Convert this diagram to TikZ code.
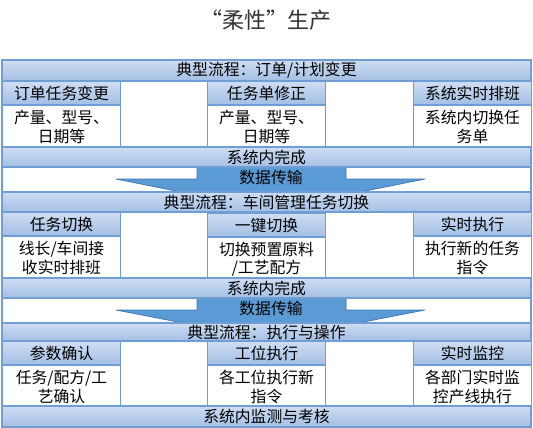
\documentclass[tikz,border=0pt]{standalone}
\usepackage{fontspec}
\setmainfont{Noto Sans CJK SC}
\definecolor{barlight}{RGB}{206,221,242}
\definecolor{bardark}{RGB}{163,191,229}
\definecolor{barline}{RGB}{112,158,212}
\definecolor{arrowblue}{RGB}{91,155,213}
\definecolor{arrowedge}{RGB}{62,118,178}
\definecolor{titlegray}{RGB}{50,50,50}
\usetikzlibrary{positioning}

\begin{document}
\begin{tikzpicture}[
  x=0.02cm, y=-0.02cm,
  bandbar/.style={
    rectangle, draw=barline, line width=0.6pt,
    top color=barlight, bottom color=bardark,
    minimum width=10.58cm, minimum height=0.4cm,
    inner sep=0pt, font=\fontsize{9}{11}\selectfont
  },
  colhead/.style={
    rectangle, draw=barline, line width=0.6pt,
    top color=barlight, bottom color=bardark,
    minimum width=2.36cm, minimum height=0.46cm,
    inner sep=0pt, font=\fontsize{9}{11}\selectfont
  },
  colbody/.style={
    rectangle, draw=barline, line width=0.6pt, fill=white,
    minimum width=2.36cm, minimum height=0.86cm,
    inner sep=0pt, align=center,
    font=\fontsize{9}{10.5}\selectfont
  },
  xferlabel/.style={inner sep=0pt, font=\fontsize{9}{11}\selectfont},
  flowarrow/.style={fill=arrowblue, draw=arrowedge, line width=0.4pt}
]
\useasboundingbox (0,0) rectangle (533,427);

\node[font=\fontsize{12.5}{14}\selectfont, text=titlegray] (title) at (266,20) {“柔性”生产};

% outer frame
\draw[barline, line width=0.6pt] (2,60) rectangle (531,427);

% transfer arrows
\draw[flowarrow] (197,167) -- (346,167) -- (346,179) -- (425,179) -- (271,210)
  -- (116,179) -- (197,179) -- cycle;
\node[xferlabel] (xfer1) at (271,177) {数据传输};
\draw[flowarrow] (197,298) -- (346,298) -- (346,310) -- (425,310) -- (271,340)
  -- (116,310) -- (197,310) -- cycle;
\node[xferlabel] (xfer2) at (271,308) {数据传输};

% stage 1
\node[bandbar, minimum height=0.42cm] (flow1) at (266.5,70.5) {典型流程：订单/计划变更};
\node[colhead, anchor=north west] (h11) at (2,81)   {订单任务变更};
\node[colhead, anchor=north west] (h12) at (207,81) {任务单修正};
\node[colhead, anchor=north west] (h13) at (413,81) {系统实时排班};
\node[colbody, below=0pt of h11] (b11) {产量、型号、\\日期等};
\node[colbody, below=0pt of h12] (b12) {产量、型号、\\日期等};
\node[colbody, below=0pt of h13] (b13) {系统内切换任\\务单};
\node[bandbar] (done1) at (266.5,157) {系统内完成};

% stage 2
\node[bandbar] (flow2) at (266.5,202) {典型流程：车间管理任务切换};
\node[colhead, anchor=north west] (h21) at (2,212)   {任务切换};
\node[colhead, anchor=north west] (h22) at (207,213) {一键切换};
\node[colhead, anchor=north west] (h23) at (413,212) {实时执行};
\node[colbody, below=0pt of h21] (b21) {线长/车间接\\收实时排班};
\node[colbody, below=0pt of h22] (b22) {切换预置原料\\/工艺配方};
\node[colbody, below=0pt of h23] (b23) {执行新的任务\\指令};
\node[bandbar] (done2) at (266.5,288) {系统内完成};

% stage 3
\node[bandbar, minimum height=0.36cm] (flow3) at (266.5,332) {典型流程：执行与操作};
\node[colhead, anchor=north west] (h31) at (2,341)   {参数确认};
\node[colhead, anchor=north west] (h32) at (207,341) {工位执行};
\node[colhead, anchor=north west] (h33) at (413,341) {实时监控};
\node[colbody, below=0pt of h31] (b31) {任务/配方/工\\艺确认};
\node[colbody, below=0pt of h32] (b32) {各工位执行新\\指令};
\node[colbody, below=0pt of h33] (b33) {各部门实时监\\控产线执行};
\node[bandbar, minimum height=0.42cm] (check) at (266.5,416.5) {系统内监测与考核};
\end{tikzpicture}
\end{document}
